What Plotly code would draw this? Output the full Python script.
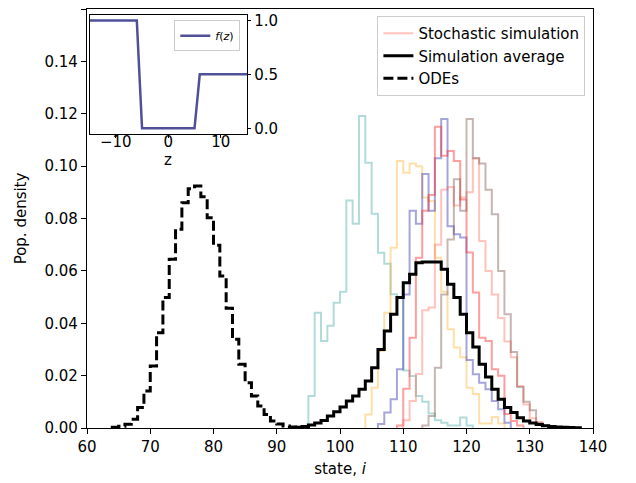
import plotly.graph_objects as go

# ---------------- data ----------------
ode_first_bin = 64
ode_density = [0.0003, 0.0007, 0.0014, 0.0033, 0.0078, 0.0141, 0.0237, 0.0364,
               0.0498, 0.0644, 0.0759, 0.0860, 0.0914, 0.0924, 0.0883, 0.0803,
               0.0698, 0.0580, 0.0457, 0.0339, 0.0243, 0.0173, 0.0122, 0.0084,
               0.0052, 0.0027, 0.0015, 0.0008, 0.0004, 0.0002, 0.0001]

avg_first_bin = 93
avg_density = [0.0003, 0.0006, 0.0011, 0.0019, 0.0029, 0.0046, 0.0062, 0.0080,
               0.0103, 0.0122, 0.0148, 0.0179, 0.0230, 0.0300, 0.0370, 0.0434,
               0.0498, 0.0555, 0.0587, 0.0631, 0.0634, 0.0634, 0.0634, 0.0606,
               0.0549, 0.0498, 0.0434, 0.0364, 0.0309, 0.0243, 0.0195, 0.0148,
               0.0110, 0.0078, 0.0059, 0.0039, 0.0027, 0.0019, 0.0013, 0.0009,
               0.0006, 0.0004, 0.0003, 0.0002, 0.0001]

teal_first_bin = 95
teal_density = [0.0122, 0.0440, 0.0332, 0.0390, 0.0478, 0.0520, 0.0869, 0.0780,
                0.1191, 0.1013, 0.0818, 0.0669, 0.0627, 0.0511, 0.0500, 0.0220,
                0.0199, 0.0122, 0.0100, 0.0055, 0.0030, 0.0020, 0.0010, 0.0010,
                0.0040, 0.0010]

orange_first_bin = 104
orange_density = [0.0052, 0.0154, 0.0294, 0.0440, 0.0688, 0.1020, 0.0975, 0.1010,
                  0.1000, 0.0880, 0.0867, 0.0650, 0.0520, 0.0377, 0.0307, 0.0270,
                  0.0154, 0.0130, 0.0017, 0.0017, 0.0042, 0.0017]

blue_first_bin = 106
blue_density = [0.0015, 0.0059, 0.0110, 0.0224, 0.0510, 0.0830, 0.0780, 0.0970,
                0.0830, 0.1030, 0.1180, 0.0770, 0.0740, 0.0727, 0.0260, 0.0205,
                0.0173, 0.0148, 0.0103, 0.0072, 0.0020]

red_first_bin = 109
red_density = [0.0010, 0.0150, 0.0345, 0.0650, 0.0830, 0.0890, 0.1150, 0.1040,
               0.1058, 0.1020, 0.0873, 0.0670, 0.0517, 0.0345, 0.0332, 0.0224,
               0.0200, 0.0053, 0.0027, 0.0010]

pink_first_bin = 110
pink_density = [0.0030, 0.0103, 0.0206, 0.0450, 0.0460, 0.0700, 0.0910, 0.0920,
                0.0850, 0.0880, 0.0900, 0.1030, 0.0714, 0.0600, 0.0510, 0.0420,
                0.0330, 0.0270, 0.0160, 0.0090, 0.0037, 0.0022, 0.0010]

brown_first_bin = 113
brown_density = [0.0010, 0.0046, 0.0230, 0.0510, 0.0720, 0.0950, 0.0830, 0.1180,
                 0.1030, 0.1010, 0.0910, 0.0816, 0.0600, 0.0434, 0.0290, 0.0157,
                 0.0100, 0.0068, 0.0020, 0.0010]

# inset: response function f(z)
z_values = [-15, -6, -5, 5, 6, 15]
f_values = [1.0, 1.0, 0.0, 0.0, 0.5, 0.5]

x_ticks = [60, 70, 80, 90, 100, 110, 120, 130, 140]
y_ticks = [0.00, 0.02, 0.04, 0.06, 0.08, 0.10, 0.12, 0.14, 0.16]
inset_x_ticks = [-10, 0, 10]
inset_y_ticks = [0.0, 0.5, 1.0]


def step_xy(first_bin, values):
    edges = [first_bin + i for i in range(len(values) + 1)]
    xs = [edges[0]] + edges[:-1] + [edges[-1]]
    ys = [0] + list(values) + [0]
    return xs, ys


FONT = "DejaVu Sans"
FS = 15
fig = go.Figure()

sims = [
    (teal_first_bin, teal_density, "rgba(60,165,160,0.40)", False),
    (orange_first_bin, orange_density, "rgba(255,170,30,0.38)", False),
    (blue_first_bin, blue_density, "rgba(40,40,170,0.42)", False),
    (red_first_bin, red_density, "rgba(255,40,40,0.45)", False),
    (pink_first_bin, pink_density, "rgba(255,95,80,0.38)", True),
    (brown_first_bin, brown_density, "rgba(120,80,70,0.42)", False),
]
for first, vals, col, show in sims:
    xs, ys = step_xy(first, vals)
    fig.add_trace(go.Scatter(x=xs, y=ys, mode="lines", line_shape="hv",
                             line=dict(color=col, width=2),
                             name="Stochastic simulation", showlegend=show))

xs, ys = step_xy(avg_first_bin, avg_density)
fig.add_trace(go.Scatter(x=xs, y=ys, mode="lines", line_shape="hv",
                         line=dict(color="black", width=3),
                         name="Simulation average"))

xs, ys = step_xy(ode_first_bin, ode_density)
fig.add_trace(go.Scatter(x=xs, y=ys, mode="lines", line_shape="hv",
                         line=dict(color="black", width=3, dash="10px,4px"),
                         name="ODEs"))

fig.add_trace(go.Scatter(x=z_values, y=f_values, mode="lines",
                         line=dict(color="#50509a", width=2.5),
                         name="<i>f</i>(<i>z</i>)", xaxis="x2", yaxis="y2",
                         legend="legend2"))

axis_common = dict(showline=True, mirror=True, linecolor="black", linewidth=1.3,
                   ticks="outside", ticklen=5, tickwidth=1.2, tickcolor="black",
                   showgrid=False, zeroline=False, automargin=False,
                   tickfont=dict(family=FONT, size=FS, color="black"))
inset_common = dict(axis_common, ticklen=3)

# page body adds an 8px offset; the figure is sized to fit the 636x483 window
fig.update_layout(
    width=628, height=475,
    margin=dict(l=79, r=43, t=1, b=55, autoexpand=False),
    paper_bgcolor="white", plot_bgcolor="white",
    font=dict(family=FONT, size=FS, color="black"),
    xaxis=dict(range=[60, 140], tickvals=x_ticks,
               title=dict(text="state, <i>i</i>", font=dict(family=FONT, size=FS),
                          standoff=8),
               **axis_common),
    yaxis=dict(range=[0, 0.16], tickvals=y_ticks, tickformat=".2f",
               title=dict(text="Pop. density", font=dict(family=FONT, size=FS),
                          standoff=14),
               **axis_common),
    xaxis2=dict(domain=[0.0051, 0.3162], anchor="y2", range=[-15, 15],
                tickvals=inset_x_ticks, ticklabelstandoff=-9, **inset_common),
    yaxis2=dict(domain=[0.7024, 0.9857], anchor="x2", range=[-0.05, 1.05],
                side="right", tickvals=inset_y_ticks, tickformat=".1f",
                **inset_common),
    legend=dict(x=0.985, y=0.983, xanchor="right", yanchor="top",
                bgcolor="rgba(255,255,255,0.8)", bordercolor="#cccccc",
                borderwidth=1, font=dict(family=FONT, size=FS), itemwidth=30,
                tracegroupgap=0),
    legend2=dict(x=0.303, y=0.973, xanchor="right", yanchor="top",
                 bgcolor="rgba(255,255,255,0.8)", bordercolor="#cccccc",
                 borderwidth=1, font=dict(family=FONT, size=11), itemwidth=30),
    annotations=[dict(text="z", xref="paper", yref="paper",
                      x=(0.0051 + 0.3162) / 2, y=0.640, xanchor="center",
                      yanchor="middle", showarrow=False, borderpad=0,
                      font=dict(family=FONT, size=FS, color="black"))],
)

fig.write_html("out.html")
